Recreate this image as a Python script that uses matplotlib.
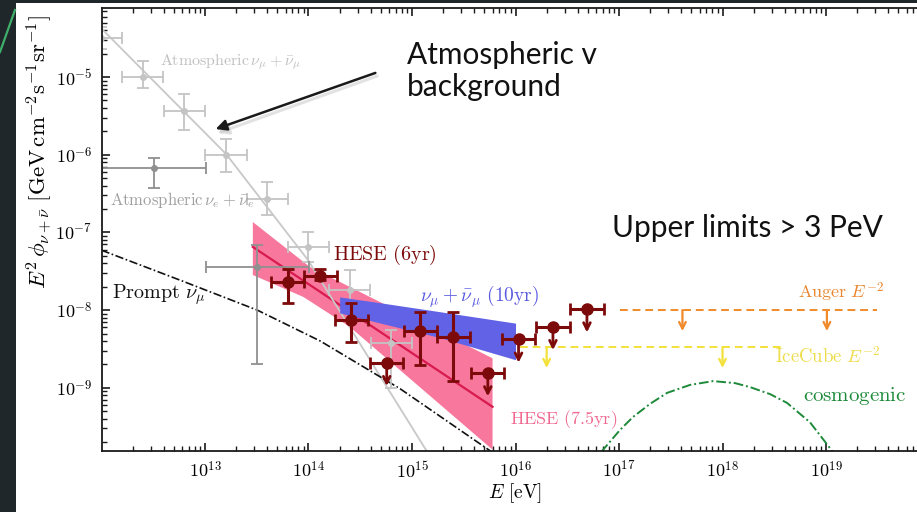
import numpy as np
import matplotlib
matplotlib.use('Agg')
import matplotlib.pyplot as plt
from matplotlib.patches import Rectangle, FancyArrowPatch
from matplotlib.lines import Line2D
from matplotlib.ticker import LogLocator, FixedLocator, FuncFormatter, NullFormatter

plt.rcParams['mathtext.fontset'] = 'cm'

# atmospheric nu_mu + nubar_mu unfolded spectrum (E in eV, E^2 phi)
atm_mu_E = [1.0e12, 2.5e12, 6.3e12, 1.6e13, 4.0e13, 1.0e14, 2.5e14, 6.3e14]
atm_mu_flux = [3.2e-5, 1.0e-5, 3.6e-6, 1.0e-6, 2.7e-7, 6.5e-8, 1.8e-8, 3.8e-9]
atm_mu_lo = [2.3e-5, 7.2e-6, 2.1e-6, 6.0e-7, 1.7e-7, 4.2e-8, 1.0e-8, 1.0e-9]
atm_mu_hi = [4.4e-5, 1.6e-5, 6.0e-6, 1.6e-6, 4.5e-7, 1.0e-7, 3.3e-8, 5.5e-9]
atm_mu_halfbin = 0.2  # decades

# atmospheric nu_mu model curve
atm_line_E = [1.0e12, 1.6e13, 9.9e13, 2.0e15]
atm_line_flux = [4.2e-5, 1.02e-6, 4.4e-8, 7.0e-11]

# atmospheric nu_e + nubar_e
atm_e_E = [3.2e12, 3.2e13]
atm_e_flux = [6.7e-7, 3.6e-8]
atm_e_lo = [3.7e-7, 2.0e-9]
atm_e_hi = [9.1e-7, 6.9e-8]
atm_e_halfbin = 0.5

# prompt nu_mu
prompt_E = [1.0e12, 5.7e12, 3.2e13, 1.3e14, 7.7e14, 6.1e15, 1.73e16]
prompt_flux = [5.9e-8, 2.44e-8, 1.0e-8, 4.0e-9, 9.7e-10, 1.45e-10, 6.3e-11]

# HESE 6yr unfolded points
hese_E = [6.3e13, 1.3e14, 2.6e14, 5.7e14, 1.2e15, 2.5e15, 5.4e15, 1.07e16, 2.3e16, 4.9e16]
hese_flux = [2.3e-8, 2.75e-8, 7.5e-9, 2.1e-9, 5.4e-9, 4.5e-9, 1.55e-9, 4.2e-9, 6.1e-9, 1.03e-8]
hese_lo = [1.23e-8, 2.45e-8, 3.9e-9, np.nan, 1.96e-9, 1.22e-9, np.nan, np.nan, np.nan, np.nan]
hese_hi = [3.4e-8, 3.4e-8, 1.23e-8, np.nan, 9.5e-9, 9.5e-9, np.nan, np.nan, np.nan, np.nan]
hese_ul = [False, False, False, True, False, False, True, True, True, True]
hese_halfbin = 0.16
ul_drop = 0.3  # decades

# HESE 7.5yr power law fit band
hese75_up_E = [2.9e13, 1.03e14, 6.0e15]
hese75_up = [1.36e-7, 3.6e-8, 2.4e-9]
hese75_lo_E = [2.9e13, 8.9e13, 2.5e14, 6.0e15]
hese75_lo = [2.83e-8, 1.48e-8, 6.1e-9, 1.6e-10]
hese75_fit_E = [2.9e13, 6.0e15]
hese75_fit = [6.5e-8, 5.7e-10]

# through-going nu_mu 10yr band
numu_E = [2.0e14, 5.2e14, 1.9e15, 1.0e16]
numu_up = [1.48e-8, 1.23e-8, 9.5e-9, 6.8e-9]
numu_lo = [9.2e-9, 6.7e-9, 4.4e-9, 2.3e-9]

# upper limits (E^-2)
auger_range = [1.02e17, 3.1e19]
auger_level = 1.0e-8
auger_arrows = [4.1e17, 1.02e19]
icecube_range = [1.1e16, 4.0e18]
icecube_level = 3.35e-9
icecube_arrows = [2.0e16, 1.0e18]
limit_drop = 0.27

# cosmogenic flux
cosmo_E = [5.25e16, 6.86e16, 1.02e17, 1.36e17, 1.99e17, 2.91e17, 4.85e17, 8.1e17,
           1.32e18, 1.85e18, 2.88e18, 4.2e18, 7.0e18, 1.09e19, 1.37e19]
cosmo_flux = [1.0e-10, 1.54e-10, 2.86e-10, 4.2e-10, 6.2e-10, 8.6e-10, 1.09e-9, 1.22e-9,
              1.15e-9, 1.02e-9, 8.3e-10, 6.4e-10, 3.6e-10, 1.68e-10, 1.1e-10]

# labelled decades
x_decades = [1e13, 1e14, 1e15, 1e16, 1e17, 1e18, 1e19]
y_decades = [1e-9, 1e-8, 1e-7, 1e-6, 1e-5]

W, H = 917, 512
fig = plt.figure(figsize=(W / 100, H / 100), dpi=100, facecolor='#1f272a')
# white slide panel + decoration
fig.patches.append(Rectangle((16 / W, 0), 1, 1 - 3 / H, transform=fig.transFigure,
                             facecolor='white', edgecolor='none', zorder=-10))
fig.lines.append(Line2D([0, 15 / W], [1 - 52 / H, 1 - 10 / H], transform=fig.transFigure,
                        color='#3fae6a', lw=1.6))

ax = fig.add_axes([102 / W, 1 - 451 / H, 1 - 102 / W, (451 - 8) / H])
ax.set_zorder(1)
ax.set_xscale('log')
ax.set_yscale('log')
ax.set_xlim(10**12.005, 10**19.879)
ax.set_ylim(10**-9.813, 10**-4.112)


def logerr(vals, lo, hi):
    vals = np.asarray(vals)
    return [vals - np.asarray(lo), np.asarray(hi) - vals]


def binerr(E, half):
    E = np.asarray(E)
    return [E - E / 10**half, E * 10**half - E]


def down_arrow(x, y0, y1, col, lw):
    ax.add_patch(FancyArrowPatch((x, y0), (x, y1), arrowstyle='->', color=col, lw=lw,
                                 mutation_scale=12, shrinkA=0, shrinkB=0, zorder=5))


# bands
ax.fill(hese75_up_E + hese75_lo_E[::-1], hese75_up + hese75_lo[::-1],
        color='#f7789c', lw=0, zorder=1)
ax.plot(hese75_fit_E, hese75_fit, color='#d81a4e', lw=1.6, zorder=2)
ax.fill_between(numu_E, numu_lo, numu_up, color='#6262e6', lw=0, zorder=3)

# model lines
ax.plot(atm_line_E, atm_line_flux, color='#c8c8c8', lw=1.3, zorder=2)
ax.plot(prompt_E, prompt_flux, color='#111111', lw=1.2, ls=(0, (5, 1.5, 1, 1.5)), zorder=2)
ax.plot(cosmo_E, cosmo_flux, color='#1e8a3a', lw=1.4, ls=(0, (5, 1.5, 1, 1.5)), zorder=2)

# atmospheric data
ax.errorbar(atm_mu_E, atm_mu_flux, xerr=binerr(atm_mu_E, atm_mu_halfbin),
            yerr=logerr(atm_mu_flux, atm_mu_lo, atm_mu_hi), fmt='o', ms=4,
            color='#c4c4c4', elinewidth=1.3, capsize=4, capthick=1.3, zorder=2)
ax.errorbar(atm_e_E, atm_e_flux, xerr=binerr(atm_e_E, atm_e_halfbin),
            yerr=logerr(atm_e_flux, atm_e_lo, atm_e_hi), fmt='o', ms=4,
            color='#909090', elinewidth=1.3, capsize=4, capthick=1.3, zorder=2)

# HESE 6yr
hred = '#7d0a0a'
meas = [i for i in range(len(hese_E)) if not hese_ul[i]]
uls = [i for i in range(len(hese_E)) if hese_ul[i]]
mE = [hese_E[i] for i in meas]
mF = [hese_flux[i] for i in meas]
ax.errorbar(mE, mF, xerr=binerr(mE, hese_halfbin),
            yerr=logerr(mF, [hese_lo[i] for i in meas], [hese_hi[i] for i in meas]),
            fmt='o', ms=8, color=hred, elinewidth=2.2, capsize=4.5, capthick=2, zorder=5)
uE = [hese_E[i] for i in uls]
uF = [hese_flux[i] for i in uls]
ax.errorbar(uE, uF, xerr=binerr(uE, hese_halfbin), fmt='o', ms=8, color=hred,
            elinewidth=2.2, capsize=4.5, capthick=2, zorder=5)
for e, f in zip(uE, uF):
    down_arrow(e, f, f / 10**ul_drop, hred, 2)

# Auger / IceCube limits
for rng, lev, arr, col in [(auger_range, auger_level, auger_arrows, '#f08a2a'),
                           (icecube_range, icecube_level, icecube_arrows, '#f3e13a')]:
    ax.plot(rng, [lev, lev], color=col, lw=1.4, ls=(0, (4, 2.5)), zorder=2)
    for e in arr:
        down_arrow(e, lev, lev / 10**limit_drop, col, 1.6)

# labels inside the plot
ax.text(3.7e12, 1.56e-5, r'$\mathrm{Atmospheric}\,\nu_\mu+\bar{\nu}_\mu$', color='#c0c0c0',
        fontsize=11.5, va='center')
ax.text(1.2e12, 2.6e-7, r'$\mathrm{Atmospheric}\,\nu_e+\bar{\nu}_e$', color='#a0a0a0',
        fontsize=12, va='center')
ax.text(1.26e12, 1.56e-8, r'$\mathrm{Prompt}\ \nu_\mu$', color='#111111', fontsize=14.5, va='center')
ax.text(1.73e14, 5.1e-8, r'$\mathrm{HESE\ (6yr)}$', color=hred, fontsize=14.5, va='center')
ax.text(1.2e15, 1.5e-8, r'$\nu_\mu+\bar{\nu}_\mu\ \mathrm{(10yr)}$', color='#5a5ae0',
        fontsize=14, va='center')
ax.text(8.9e15, 3.9e-10, r'$\mathrm{HESE\ (7.5yr)}$', color='#f06a92', fontsize=13, va='center')
ax.text(5.4e18, 1.7e-8, r'$\mathrm{Auger}\ E^{-2}$', color='#e8852e', fontsize=13, va='center')
ax.text(3.2e18, 2.5e-9, r'$\mathrm{IceCube}\ E^{-2}$', color='#eedc4a', fontsize=13.5, va='center')
ax.text(6.0e18, 7.8e-10, r'$\mathrm{cosmogenic}$', color='#1e8a3a', fontsize=15, va='center')

# axes styling
for s in ['left', 'bottom', 'top']:
    ax.spines[s].set_linewidth(1.3)
    ax.spines[s].set_color('#1a1a1a')
ax.spines['right'].set_visible(False)
ax.tick_params(which='both', direction='in', top=True, right=False, color='#1a1a1a')
ax.tick_params(which='major', length=6, width=1.2, labelsize=13, pad=7)
ax.tick_params(which='minor', length=3.5, width=1.0)
ax.xaxis.set_major_locator(FixedLocator(x_decades))
ax.xaxis.set_minor_locator(LogLocator(base=10, subs=np.arange(2, 10), numticks=20))
ax.yaxis.set_major_locator(FixedLocator(y_decades))
ax.yaxis.set_minor_locator(LogLocator(base=10, subs=np.arange(2, 10), numticks=20))
fmt = FuncFormatter(lambda v, _: r'$10^{%d}$' % round(np.log10(v)))
ax.xaxis.set_major_formatter(fmt)
ax.yaxis.set_major_formatter(fmt)
ax.xaxis.set_minor_formatter(NullFormatter())
ax.yaxis.set_minor_formatter(NullFormatter())

fig.text(515 / W, 1 - 493 / H, r'$E\ [\mathrm{eV}]$', fontsize=14, ha='center', va='center')
fig.text(40 / W, 1 - 152 / H, r'$E^2\,\phi_{\nu+\bar{\nu}}\ [\mathrm{GeV\,cm^{-2}s^{-1}sr^{-1}}]$',
         fontsize=16.5, rotation=90, ha='center', va='center')

# slide annotations
fig.text(407 / W, 1 - 71 / H, 'Atmospheric v\nbackground', family='Lato', fontsize=21.5,
         color='#111111', va='center', linespacing=1.15)
fig.text(612 / W, 1 - 228 / H, 'Upper limits > 3 PeV', family='Lato', fontsize=21.5,
         color='#111111', va='center')
fig.patches.append(FancyArrowPatch((380 / W, 1 - 75 / H), (215 / W, 1 - 134 / H),
                                   transform=fig.transFigure, arrowstyle='-|>', color='#cfcfcf',
                                   lw=2.2, mutation_scale=16, alpha=0.6, zorder=3))
fig.patches.append(FancyArrowPatch((378 / W, 1 - 72 / H), (213 / W, 1 - 130 / H),
                                   transform=fig.transFigure, arrowstyle='-|>', color='#1a1a1a',
                                   lw=1.8, mutation_scale=16, zorder=4))

fig.savefig('out.png', dpi=100, facecolor=fig.get_facecolor())
